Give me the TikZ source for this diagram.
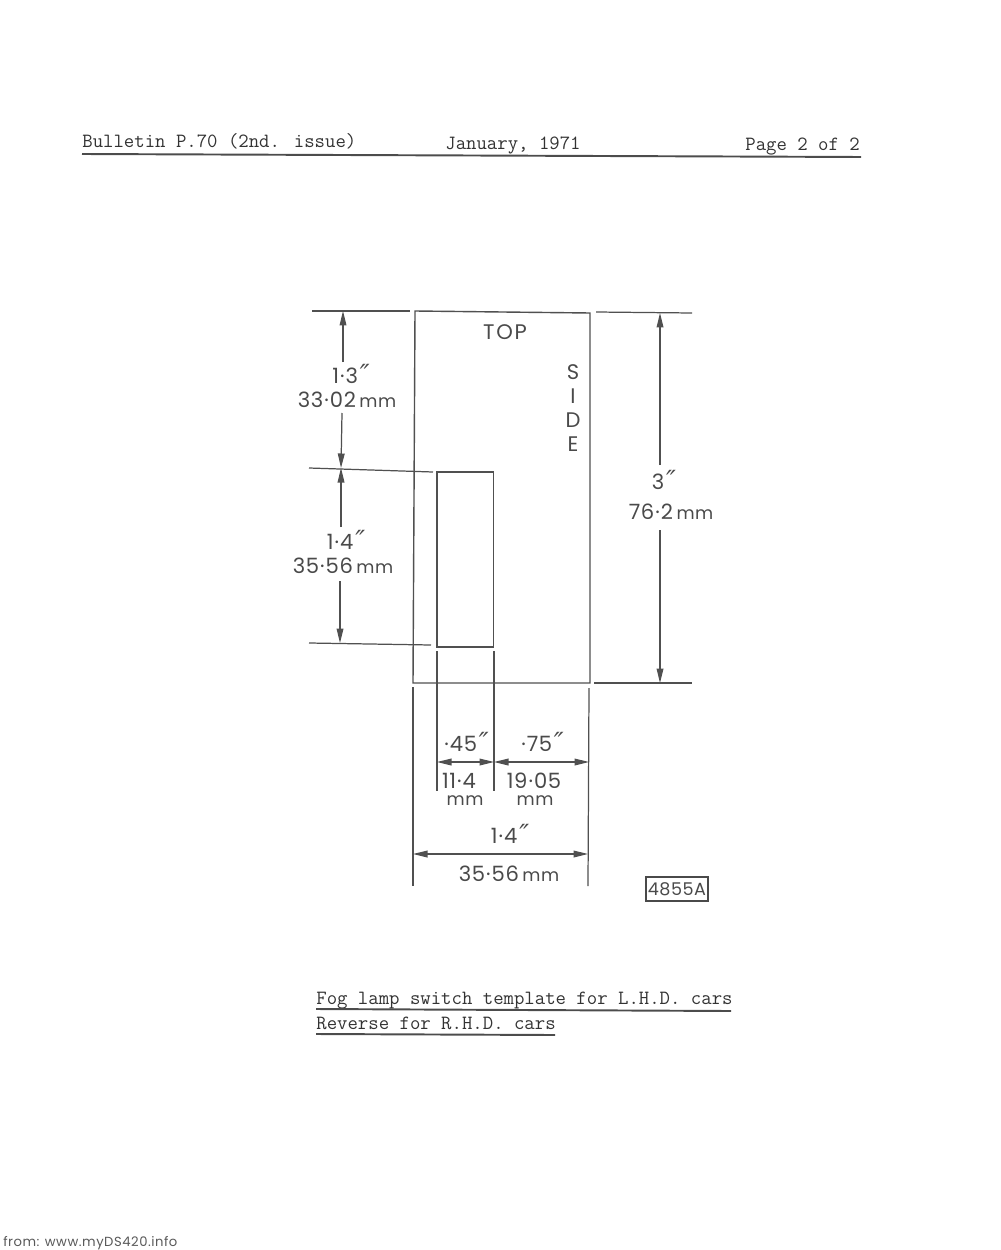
\documentclass[tikz,border=0pt]{standalone}
\usepackage{fontspec}
\setmainfont{Poppins}[LetterSpace=3]
\newfontfamily\primefont{DejaVu Sans}
\usetikzlibrary{arrows.meta}
\definecolor{inkline}{HTML}{505050}
\definecolor{inktext}{HTML}{4A4A4A}
\newcommand{\dimdot}{\kern0.6pt·\kern0.6pt}
\newcommand{\dimmm}{\,{\fontsize{10}{12}\selectfont mm}}
\newcommand{\dimin}{\kern1pt{\primefont\itshape\fontsize{15}{15}\selectfont\raisebox{0pt}{″}}}
\tikzset{
    dimline/.style={inkline,line width=0.7pt},
    dimhead/.tip={Triangle[length=2.9mm,width=1.35mm]},
    dimarrow/.style={dimline,-dimhead},
    dimtwo/.style={dimline,dimhead-dimhead},
    dimtext/.style={inktext,font=\fontsize{12}{14}\selectfont,inner sep=0pt},
    dimunit/.style={dimtext,font=\fontsize{10}{10}\selectfont},
    typed/.style={black!80,font=\ttfamily\fontsize{11.5}{13}\selectfont\addfontfeature{FakeBold=0.5},anchor=base west,inner sep=0pt},
    typedrule/.style={black!70,line width=1.1pt}
}
\begin{document}
\begin{tikzpicture}[x=0.02cm,y=-0.02cm]
    \useasboundingbox (0,0) rectangle (1000,1250);
    % heading
    \node[typed] (bulletin) at (82,148){Bulletin P.70 (2nd. issue)};
    \node[typed] (issued) at (445,150){January, 1971};
    \node[typed] (pageno) at (745,151){Page 2 of 2};
    \draw[typedrule] (82,154) -- (861,157);

    % template outline and cut-out
    \draw[dimline,line width=0.8pt] (415,311) -- (590,313) -- (590,683) -- (413,683) -- cycle;
    \draw[dimline] (437,472) rectangle (493.5,647);
    \node[dimtext] (toplabel) at (505,332){\addfontfeature{LetterSpace=8}TOP};
    \node[dimtext,align=center,font=\fontsize{12}{13.6}\selectfont] (sidelabel) at (573,408){S\\I\\D\\E};

    % left dimensions
    \draw[dimline] (312,311) -- (410,311);
    \draw[dimline] (309,468) -- (433,472);
    \draw[dimline] (309,643) -- (431,645);
    \node[dimtext] (upperin) at (351,374){1\dimdot 3\dimin};
    \node[dimtext] (uppermm) at (347,400){33\dimdot 02\dimmm};
    \node[dimtext] (lowerin) at (346,540){1\dimdot 4\dimin};
    \node[dimtext] (lowermm) at (343,566){35\dimdot 56\dimmm};
    \draw[dimarrow] (343,362) -- (343,311);
    \draw[dimarrow] (342,413) -- (341,468);
    \draw[dimarrow] (341,527) -- (341,468);
    \draw[dimarrow] (340,581) -- (340,643);

    % right dimension
    \draw[dimline] (596,312) -- (692,313);
    \draw[dimline] (594,683) -- (692,683);
    \node[dimtext] (heightin) at (664,480){3\dimin};
    \node[dimtext] (heightmm) at (671,512){76\dimdot 2\dimmm};
    \draw[dimarrow] (660,465) -- (660,313);
    \draw[dimarrow] (660,530) -- (660,683);

    % bottom dimensions
    \draw[dimline] (437,651) -- (437,791);
    \draw[dimline] (494,651) -- (494,791);
    \draw[dimline] (413,687) -- (413,886);
    \draw[dimline] (589,688) -- (588,886);
    \node[dimtext] (holein) at (466,742){\dimdot 45\dimin};
    \node[dimtext] (edgein) at (542,742){\dimdot 75\dimin};
    \draw[dimtwo] (437,762) -- (494,762);
    \draw[dimtwo] (494,762) -- (589,762);
    \node[dimtext] (holemm) at (459,781){11\dimdot 4};
    \node[dimunit] (holeunit) at (465,801){mm};
    \node[dimtext] (edgemm) at (534,781){19\dimdot 05};
    \node[dimunit] (edgeunit) at (535,801){mm};
    \node[dimtext] (widthin) at (510,834){1\dimdot 4\dimin};
    \draw[dimtwo] (413,854) -- (588,854);
    \node[dimtext] (widthmm) at (509,874){35\dimdot 56\dimmm};

    % drawing number
    \node[draw=inkline,line width=0.7pt,inktext,font=\fontsize{10}{11}\selectfont,minimum width=1.24cm,minimum height=0.48cm,inner sep=0pt] (drawingno) at (677,889){4855A};

    % caption
    \node[typed] (captionone) at (316,1004){Fog lamp switch template for L.H.D. cars};
    \draw[typedrule] (316,1009) -- (731,1011);
    \node[typed] (captiontwo) at (316,1029){Reverse for R.H.D. cars};
    \draw[typedrule] (316,1034) -- (555,1035);

    % source line
    \node[anchor=base west,inner sep=0pt,black!65,font=\fontsize{7.5}{9}\selectfont] (sourceline) at (3,1246){\addfontfeature{LetterSpace=4}from: www.myDS420.info};
\end{tikzpicture}
\end{document}
